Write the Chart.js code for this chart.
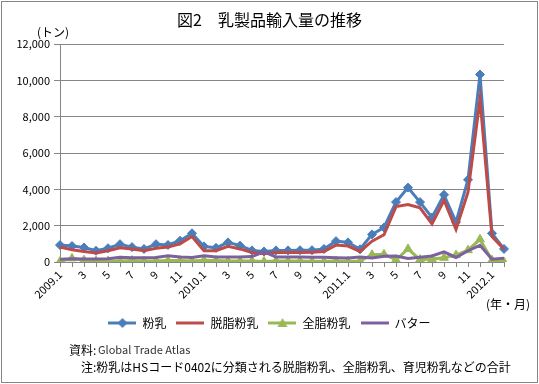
<!DOCTYPE html>
<html>
<head>
<meta charset="utf-8">
<script src="https://cdn.jsdelivr.net/npm/chart.js@4.4.0/dist/chart.umd.min.js"></script>
<style>
    html, body { margin: 0; padding: 0; background: #fff; }
</style>
</head>
<body>
<canvas id="chart" width="539" height="384"></canvas>
<script>
// 月ラベル（2009.1〜2012.2）
const months = [
    '2009.1', '2', '3', '4', '5', '6', '7', '8', '9', '10', '11', '12',
    '2010.1', '2', '3', '4', '5', '6', '7', '8', '9', '10', '11', '12',
    '2011.1', '2', '3', '4', '5', '6', '7', '8', '9', '10', '11', '12',
    '2012.1', '2'
];

// 輸入量（トン）
const funnyu = [
    930, 880, 800, 620, 760, 980, 820, 720, 980, 940, 1170, 1580,
    860, 780, 1080, 900, 640, 580, 640, 640, 650, 650, 720, 1150,
    1080, 700, 1520, 1900, 3300, 4100, 3300, 2450, 3700, 2200, 4530, 10330,
    1580, 720
];
const dasshi = [
    820, 680, 580, 500, 620, 780, 720, 620, 760, 820, 1000, 1400,
    620, 620, 860, 720, 520, 460, 520, 520, 520, 540, 580, 930,
    880, 580, 1150, 1500, 3050, 3170, 2980, 2100, 3400, 1800, 3850, 8980,
    1400, 700
];
const zenshi = [
    30, 200, 100, 50, 50, 60, 80, 50, 60, 80, 80, 50,
    100, 80, 60, 60, 60, 30, 60, 60, 60, 40, 40, 60,
    40, 50, 400, 420, 120, 720, 130, 160, 230, 380, 650, 1250,
    100, 0
];
const butter = [
    150, 180, 170, 170, 180, 260, 230, 240, 250, 340, 280, 250,
    340, 280, 280, 280, 300, 560, 280, 280, 280, 260, 260, 240,
    220, 280, 220, 320, 330, 200, 260, 330, 560, 250, 620, 920,
    150, 200
];

const yTicks = [0, 2000, 4000, 6000, 8000, 10000, 12000];

const FONT = "'Noto Sans CJK JP', 'Noto Sans', sans-serif";
const AXIS_GRAY = '#868686';

// 凡例用の線＋マーカー画像
function legendIcon(color, marker) {
    const c = document.createElement('canvas');
    c.width = 28;
    c.height = 12;
    const g = c.getContext('2d');
    g.strokeStyle = color;
    g.lineWidth = 3;
    g.beginPath();
    g.moveTo(0, 6);
    g.lineTo(28, 6);
    g.stroke();
    g.fillStyle = color;
    if (marker === 'diamond') {
        g.beginPath();
        g.moveTo(14, 1); g.lineTo(19, 6); g.lineTo(14, 11); g.lineTo(9, 6);
        g.closePath();
        g.fill();
    } else if (marker === 'triangle') {
        g.beginPath();
        g.moveTo(14, 1); g.lineTo(19, 10); g.lineTo(9, 10);
        g.closePath();
        g.fill();
    }
    return c;
}

const series = [
    { label: '粉乳', data: funnyu, color: '#4A7EBB', marker: 'diamond' },
    { label: '脱脂粉乳', data: dasshi, color: '#BE4B48', marker: null },
    { label: '全脂粉乳', data: zenshi, color: '#98B954', marker: 'triangle' },
    { label: 'バター', data: butter, color: '#7D60A0', marker: null }
];

// 枠・注記など
const extraText = {
    id: 'extraText',
    beforeDraw(chart) {
        const ctx = chart.ctx;
        ctx.save();
        ctx.fillStyle = '#fff';
        ctx.fillRect(0, 0, chart.width, chart.height);
        ctx.restore();
    },
    afterDraw(chart) {
        const ctx = chart.ctx;
        ctx.save();
        ctx.strokeStyle = AXIS_GRAY;
        ctx.lineWidth = 1;
        ctx.strokeRect(1.5, 1.5, chart.width - 3, chart.height - 3);

        ctx.fillStyle = '#000';
        ctx.textBaseline = 'middle';
        ctx.font = '12px ' + FONT;
        ctx.fillText('(トン)', 37, 32);
        ctx.fillText('(年・月)', 486, 304);

        ctx.fillText('資料:', 69, 350);
        ctx.fillStyle = '#333';
        ctx.font = '11px ' + FONT;
        ctx.fillText('Global Trade Atlas', 98, 350);

        ctx.fillStyle = '#000';
        ctx.font = '12px ' + FONT;
        ctx.fillText('注:粉乳はHSコード0402に分類される脱脂粉乳、全脂粉乳、育児粉乳などの合計', 81, 367);
        ctx.restore();
    }
};

const chart = new Chart(document.getElementById('chart').getContext('2d'), {
    type: 'line',
    data: {
        labels: months,
        datasets: series.map((s, i) => ({
            label: s.label,
            data: s.data,
            borderColor: s.color,
            backgroundColor: s.color,
            borderWidth: 3,
            tension: 0,
            order: series.length - 1 - i,
            pointStyle: s.marker === 'diamond' ? 'rectRot' : 'triangle',
            pointRadius: s.marker ? (s.marker === 'diamond' ? 4.5 : 5) : 0,
            pointBorderWidth: 1,
            pointBackgroundColor: s.color,
            pointBorderColor: s.color
        }))
    },
    options: {
        responsive: false,
        animation: false,
        devicePixelRatio: 1,
        layout: {
            padding: { left: 0, right: 0, top: 0, bottom: 45 }
        },
        plugins: {
            title: {
                display: true,
                text: '図2　乳製品輸入量の推移',
                color: '#000',
                font: { family: FONT, size: 16, weight: 'normal' },
                padding: { top: 10, bottom: 15 }
            },
            legend: {
                position: 'bottom',
                labels: {
                    usePointStyle: true,
                    pointStyleWidth: 28,
                    padding: 10,
                    color: '#000',
                    font: { family: FONT, size: 12 },
                    generateLabels: () => series.map((s, i) => ({
                        text: s.label,
                        pointStyle: legendIcon(s.color, s.marker),
                        fillStyle: s.color,
                        strokeStyle: s.color,
                        lineWidth: 0,
                        fontColor: '#000',
                        datasetIndex: i
                    }))
                }
            },
            tooltip: { enabled: false }
        },
        scales: {
            x: {
                grid: {
                    drawOnChartArea: false,
                    color: AXIS_GRAY,
                    tickLength: 5
                },
                border: { color: AXIS_GRAY },
                ticks: {
                    autoSkip: false,
                    maxRotation: 45,
                    minRotation: 45,
                    padding: 1,
                    color: '#000',
                    font: { family: FONT, size: 11 },
                    callback: (val, idx) => (idx % 2 === 0 ? months[idx] : '')
                },
                afterFit(scale) {
                    scale.height = 45;
                }
            },
            y: {
                min: 0,
                max: 12000,
                grid: {
                    color: AXIS_GRAY,
                    tickLength: 6
                },
                border: { color: AXIS_GRAY },
                afterBuildTicks(scale) {
                    scale.ticks = yTicks.map(v => ({ value: v }));
                },
                ticks: {
                    padding: 4,
                    color: '#000',
                    font: { family: FONT, size: 11 },
                    callback: v => v.toLocaleString('en-US')
                },
                afterFit(scale) {
                    scale.width = 60;
                }
            },
            // 右側の余白用
            yR: {
                position: 'right',
                grid: { display: false, drawTicks: false },
                border: { display: false },
                ticks: { display: false },
                afterFit(scale) {
                    scale.width = 35;
                }
            }
        }
    },
    plugins: [extraText]
});
</script>
</body>
</html>
